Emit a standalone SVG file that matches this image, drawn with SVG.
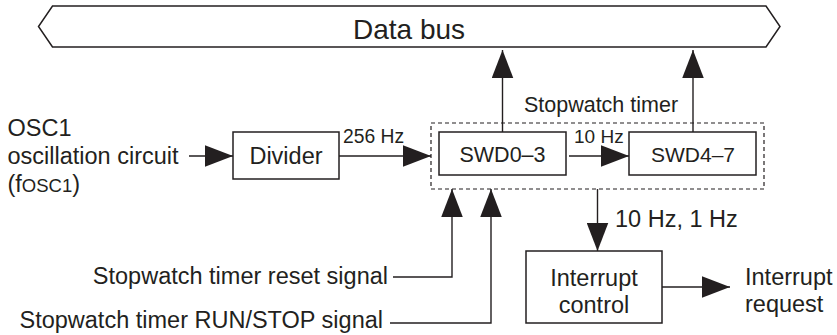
<svg xmlns="http://www.w3.org/2000/svg" width="837" height="335" viewBox="0 0 837 335">
<defs>
<style>
text{font-family:"Liberation Sans",Arial,sans-serif;fill:#231f20;font-size:23.5px}
.box{fill:#fff;stroke:#231f20;stroke-width:1.5}
.ln{fill:none;stroke:#231f20;stroke-width:1.4}
.sm{font-size:19.3px}
.md{font-size:21.5px}
.mid{text-anchor:middle}
.end{text-anchor:end}
</style>
<marker id="ah" markerUnits="userSpaceOnUse" markerWidth="28" markerHeight="22" viewBox="0 0 26 20" refX="26" refY="10" orient="auto">
<path d="M0,0 L26,10 L0,20 Z" fill="#231f20"/>
</marker>
</defs>
<rect width="837" height="335" fill="#fff"/>
<g id="databus">
<path class="box" d="M52.5,6 L766,6 L780,26.5 L766,47 L52.5,47 L38.5,26.5 Z"/>
<text x="409" y="39" class="mid" style="font-size:28px">Data bus</text>
</g>
<g id="osc">
<text x="7.5" y="136">OSC1</text>
<text x="7.5" y="164">oscillation circuit</text>
<text x="7.5" y="192">(f<tspan style="font-size:18.5px">OSC1</tspan>)</text>
</g>
<g id="divider">
<rect class="box" x="233" y="132" width="106" height="47"/>
<text x="286" y="164" class="mid">Divider</text>
</g>
<g id="stopwatch">
<rect x="431" y="123" width="333" height="66" fill="none" stroke="#231f20" stroke-width="1.2" stroke-dasharray="4,3"/>
<text x="601" y="112" class="md mid">Stopwatch timer</text>
</g>
<g id="swd03">
<rect class="box" x="439" y="132" width="127" height="43"/>
<text x="502.5" y="162" class="md mid">SWD0–3</text>
</g>
<g id="swd47">
<rect class="box" x="629" y="132" width="127" height="43"/>
<text x="693" y="162" class="mid" style="font-size:21px">SWD4–7</text>
</g>
<g id="interrupt">
<rect class="box" x="526" y="251" width="136" height="72"/>
<text x="594" y="286" class="mid">Interrupt</text>
<text x="594" y="313" class="mid">control</text>
</g>
<g id="reset-label">
<text x="388" y="284" class="end">Stopwatch timer reset signal</text>
</g>
<g id="runstop-label">
<text x="383" y="328" class="end">Stopwatch timer RUN/STOP signal</text>
</g>
<g id="request-label">
<text x="745" y="285">Interrupt</text>
<text x="745" y="312">request</text>
</g>
<g id="connectors">
<line class="ln" x1="189" y1="156" x2="233" y2="156" marker-end="url(#ah)"/>
<line class="ln" x1="339" y1="156" x2="431" y2="156" marker-end="url(#ah)"/>
<text x="343" y="143" class="sm">256 Hz</text>
<line class="ln" x1="569" y1="156" x2="629" y2="156" marker-end="url(#ah)"/>
<text x="574" y="143" style="font-size:19px">10 Hz</text>
<line class="ln" x1="502.5" y1="132" x2="502.5" y2="50" marker-end="url(#ah)"/>
<line class="ln" x1="693" y1="132" x2="693" y2="50" marker-end="url(#ah)"/>
<line class="ln" x1="597.5" y1="189" x2="597.5" y2="251" marker-end="url(#ah)"/>
<text x="615" y="227">10 Hz, 1 Hz</text>
<line class="ln" x1="662" y1="287" x2="730" y2="287" marker-end="url(#ah)"/>
<polyline class="ln" points="393,277 452,277 452,189" marker-end="url(#ah)"/>
<polyline class="ln" points="390,323 491,323 491,189" marker-end="url(#ah)"/>
</g>
</svg>
